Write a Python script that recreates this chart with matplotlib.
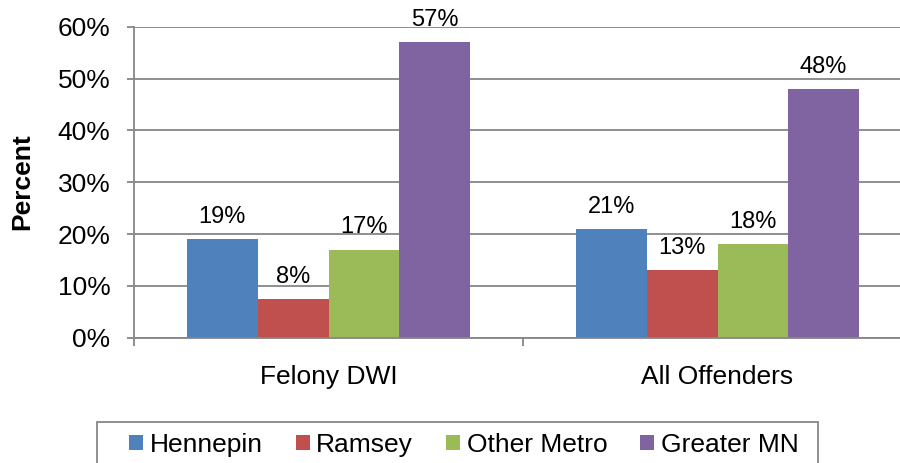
import numpy as np
import matplotlib as mpl
mpl.use('Agg')
import matplotlib.pylab as plt
from matplotlib.patches import Rectangle

plt.rcParams['font.family'] = ['Liberation Sans', 'DejaVu Sans']

categories = ['Felony DWI', 'All Offenders']
regions = ['Hennepin', 'Ramsey', 'Other Metro', 'Greater MN']
hennepin = [19, 21]
ramsey = [7.5, 13]
other_metro = [17, 18]
greater_mn = [57, 48]
yticks = [0, 10, 20, 30, 40, 50, 60]

colors = ['#4F81BD', '#C0504D', '#9BBB59', '#8064A2']
grey = '#868686'

f = plt.figure(figsize=(9, 4.63), dpi=100)
ax = f.add_axes([134/900, 1-337.7/463, 778/900, 311/463])

x = np.arange(len(categories))
w = 1/5.5  # gap width 150%
for i, (vals, name) in enumerate(zip([hennepin, ramsey, other_metro, greater_mn], regions)):
    bars = ax.bar(x+(i-1.5)*w, vals, width=w, color=colors[i], label=name, zorder=2)
    ax.bar_label(bars, labels=[f'{v:.0f}%' for v in vals], padding=8, fontsize=17, clip_on=False)

ax.set_xlim(-0.5, 1.5)
ax.set_ylim(0, 60)
ax.set_yticks(yticks)
ax.set_yticklabels([f'{t}%' for t in yticks])
ax.yaxis.grid(True, color=grey, linewidth=1.3, zorder=0)
ax.set_axisbelow(True)
for s in ['top', 'right']:
    ax.spines[s].set_visible(False)
for s in ['left', 'bottom']:
    ax.spines[s].set_color(grey)
    ax.spines[s].set_linewidth(1.3)

ax.set_xticks(x)
ax.set_xticklabels(categories)
ax.set_xticks([-0.5, 0.5, 1.5], minor=True)
ax.tick_params(axis='x', which='major', length=0, pad=20, labelsize=19)
ax.tick_params(axis='x', which='minor', length=6, width=1.3, color=grey)
ax.tick_params(axis='y', length=5, width=1.3, color=grey, pad=12, labelsize=19)

f.text(22/900, 1-182/463, 'Percent', rotation=90, ha='center', va='center', fontsize=19, fontweight='bold')

# legend box (cut off at the bottom like the original)
f.patches.append(Rectangle((97/900, -0.1), (817.7-97)/900, 0.1+1-422.3/463, transform=f.transFigure,
                           fill=False, edgecolor=grey, linewidth=1.3))
f.legend(loc='center left', bbox_to_anchor=(129/900, 1-445/463), ncol=4, frameon=False, fontsize=19,
         borderpad=0, borderaxespad=0, handlelength=0.53, handleheight=0.53, handletextpad=0.25,
         columnspacing=1.25)

f.savefig('out.png', dpi=100)
